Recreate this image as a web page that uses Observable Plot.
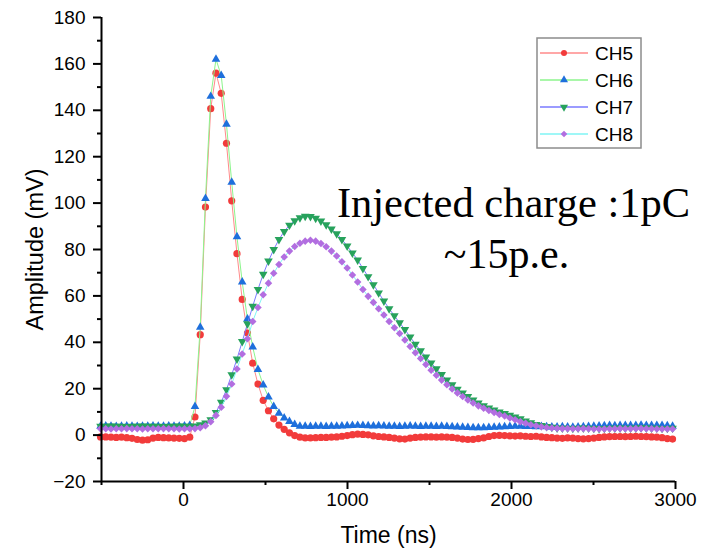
<!DOCTYPE html>
<html><head><meta charset="utf-8">
<script src="https://cdn.jsdelivr.net/npm/d3@7"></script>
<script src="https://cdn.jsdelivr.net/npm/@observablehq/plot@0.6"></script>
<style>
body{margin:0;background:#fff}
#chart{position:relative;width:707px;height:553px}
</style>
</head><body><div id="chart"></div>
<script>
// sample times (ns)
const time = [-506,-474,-442,-410,-378,-346,-314,-282,-250,-218,
-186,-154,-122,-90,-58,-26,6,38,70,102,
134,166,198,230,262,294,326,358,390,422,
454,486,518,550,582,614,646,678,710,742,
774,806,838,870,902,934,966,998,1030,1062,
1094,1126,1158,1190,1222,1254,1286,1318,1350,1382,
1414,1446,1478,1510,1542,1574,1606,1638,1670,1702,
1734,1766,1798,1830,1862,1894,1926,1958,1990,2022,
2054,2086,2118,2150,2182,2214,2246,2278,2310,2342,
2374,2406,2438,2470,2502,2534,2566,2598,2630,2662,
2694,2726,2758,2790,2822,2854,2886,2918,2950,2982];

const ch5 = [-0.8,-0.8,-0.9,-1.0,-0.9,-1.1,-1.4,-1.9,-2.2,-2.0,
-1.3,-1.0,-1.1,-1.2,-1.3,-1.4,-1.5,-0.9,7.8,43.3,
98.3,140.7,156,147.3,125.8,101,78.2,58.5,44,31,
22,15,10.5,7,4.3,2.5,1,-0.2,-0.9,-1.2,
-1.2,-1.1,-1.0,-1.0,-0.9,-0.8,-0.5,-0.2,0.2,0.4,
0.3,0.1,-0.3,-0.6,-0.8,-1.0,-1.3,-1.6,-1.7,-1.3,
-1.0,-0.9,-0.8,-0.8,-0.9,-0.8,-0.9,-1.0,-1.3,-1.7,
-1.9,-1.8,-1.5,-1.2,-0.6,-0.2,-0.1,-0.2,-0.3,-0.4,
-0.3,-0.5,-0.6,-0.5,-0.8,-1.0,-1.1,-1.3,-1.4,-1.2,
-1.3,-1.5,-1.6,-1.5,-1.3,-1.0,-0.8,-0.7,-0.6,-0.6,
-0.7,-0.6,-0.5,-0.6,-0.7,-0.8,-0.9,-1.1,-1.5,-1.7];

const ch6 = [3.8,3.9,3.8,3.7,3.8,3.9,3.8,3.7,3.8,3.8,
3.9,3.8,3.8,3.9,3.8,3.8,3.9,4.2,12.3,46.5,
102,146,162,155,134,109,85.5,66,50,38,
28.3,21.6,16.4,12.3,9.4,7.4,5.9,4.6,3.8,3.8,
3.7,3.8,3.8,3.7,3.8,3.8,3.9,4.0,4.1,4.2,
4.1,4.0,3.9,4.0,3.9,3.8,3.8,3.7,3.8,3.9,
3.8,3.7,3.8,3.8,3.7,3.8,3.7,3.6,3.5,3.4,
3.3,3.2,3.2,3.2,3.3,3.4,3.5,3.6,3.7,3.8,
3.8,3.7,3.7,3.6,3.7,3.6,3.5,3.5,3.6,3.5,
3.4,3.5,3.6,3.7,3.8,3.9,4.0,4.1,4.0,4.1,
4.2,4.1,4.2,4.3,4.2,4.1,4.2,4.1,4.0,3.8];

const ch7 = [3.8,3.8,3.9,3.8,3.8,3.7,3.8,3.8,3.9,3.8,
3.8,3.8,3.7,3.8,3.8,3.9,3.8,3.8,3.9,4.5,
5.2,6.6,9.8,14.2,19.6,26,32.8,40.3,48,55.5,
62.8,69.3,75,80,84.3,87.8,90.5,92.4,93.7,94.3,
94.2,93.5,92.3,90.7,88.8,86.8,84.3,81.5,78.5,75.5,
71.8,68.3,64.8,61.3,57.8,54.5,51.4,48.4,45.5,42.3,
39.2,36.4,33.7,31.1,28.6,26.1,23.8,21.7,19.8,18.1,
16.6,15.1,13.8,12.7,11.7,10.8,10,9.3,8.6,7.8,
7,6.1,5.3,4.6,4.1,3.7,3.4,3.1,3.0,3.0,
2.9,3.0,3.1,3.0,2.9,2.8,2.9,3.0,3.0,3.1,
3.0,3.0,3.1,3.2,3.1,3.0,3.0,2.9,2.9,3.0];

const ch8 = [2.7,2.7,2.6,2.7,2.7,2.8,2.7,2.7,2.6,2.7,
2.7,2.7,2.8,2.7,2.7,2.6,2.7,2.7,2.8,3.2,
4.0,5.8,8.5,12,16.7,22,28.5,35,41.5,49,
55,60.5,65.5,69.8,73.5,76.8,79.3,81.3,82.7,83.6,
84,83.6,82.6,81.2,79.3,77.2,74.7,72,69,66,
62.8,59.8,57.2,54.5,51.8,49,46.3,43.8,41,38.2,
35.5,33,30.4,28,25.8,23.7,21.7,19.9,18.2,16.6,
15.1,13.8,12.6,11.6,10.6,9.7,8.9,8.2,7.4,6.6,
5.8,5.1,4.5,4.0,3.6,3.3,3.1,2.9,2.8,2.8,
2.7,2.7,2.8,2.7,2.6,2.6,2.6,2.7,2.7,2.8,
2.7,2.7,2.8,2.8,2.7,2.7,2.6,2.6,2.6,2.6];

const seriesNames = ["CH5", "CH6", "CH7", "CH8"];
const xTicks = [0, 1000, 2000, 3000];
const xMinorTicks = [-500, 500, 1500, 2500];
const yTicks = [-20, 0, 20, 40, 60, 80, 100, 120, 140, 160, 180];
const yMinorTicks = [-10, 10, 30, 50, 70, 90, 110, 130, 150, 170];
const annotationLines = ["Injected charge :1pC", "~15p.e."];
const xLabel = "Time (ns)";
const yLabel = "Amplitude (mV)";

// inverted triangle symbol
const triangleDown = {
  draw(context, size) {
    const y = -Math.sqrt(size / (Math.sqrt(3) * 3));
    context.moveTo(0, -y * 2);
    context.lineTo(-Math.sqrt(3) * y, y);
    context.lineTo(Math.sqrt(3) * y, y);
    context.closePath();
  }
};

const styles = [
  {line: "#ff8a8a", fill: "#f23b3b", symbol: d3.symbolCircle, r: 3.6},
  {line: "#8cf58c", fill: "#1e6fdc", symbol: d3.symbolTriangle, r: 3.2},
  {line: "#7a7aff", fill: "#27a25c", symbol: triangleDown, r: 3.2},
  {line: "#7ff5f5", fill: "#b26ee0", symbol: d3.symbolDiamond2, r: 3.4}
];

const valueSets = [ch5, ch6, ch7, ch8];
const rowsets = valueSets.map((vals, k) =>
  time.slice(0, Math.min(time.length, vals.length)).map((t, i) => ({t, v: vals[i], name: seriesNames[k]}))
);

const FONT = "'Liberation Sans', Arial, sans-serif";
const SERIF = "'Liberation Serif', 'Times New Roman', serif";
const fmt = d => d < 0 ? "\u2212" + Math.abs(d) : String(d);

const marks = [];
rowsets.forEach((rows, k) => {
  const s = styles[k];
  marks.push(Plot.line(rows, {x: "t", y: "v", stroke: s.line, strokeWidth: 1}));
  marks.push(Plot.dot(rows, {x: "t", y: "v", symbol: s.symbol, r: s.r, fill: s.fill, stroke: "none"}));
});

const plot = Plot.plot({
  width: 707,
  height: 553,
  marginLeft: 101,
  marginRight: 32,
  marginTop: 17,
  marginBottom: 72,
  style: {fontFamily: FONT, background: "white", overflow: "visible"},
  x: {domain: [-500, 3000], label: null},
  y: {domain: [-20, 180], label: null},
  marks: [
    ...marks,
    Plot.axisX(xTicks, {tickSize: 8, tickPadding: 3, fontSize: 19, strokeWidth: 2, label: null, fontFamily: FONT, tickFormat: fmt}),
    Plot.axisX(xMinorTicks, {tickSize: 4, fill: "none", strokeWidth: 2, label: null}),
    Plot.axisY(yTicks, {tickSize: 8, tickPadding: 8, fontSize: 19, strokeWidth: 2, label: null, fontFamily: FONT, tickFormat: fmt}),
    Plot.axisY(yMinorTicks, {tickSize: 4, fill: "none", strokeWidth: 2, label: null}),
    Plot.ruleX([-500], {strokeWidth: 2}),
    Plot.ruleY([-20], {strokeWidth: 2}),
    Plot.text([xLabel], {text: d => d, frameAnchor: "bottom", dy: 61, lineAnchor: "bottom", fontSize: 23, fontFamily: FONT, fill: "black"}),
    Plot.text([yLabel], {text: d => d, frameAnchor: "left", dx: -59, rotate: -90, lineAnchor: "bottom", textAnchor: "middle", fontSize: 23.5, fontFamily: FONT, fill: "black"}),
    Plot.text([annotationLines[0]], {text: d => d, frameAnchor: "top-left", dx: 412, dy: 199, lineAnchor: "bottom", textAnchor: "middle", fontSize: 42.5, fontFamily: SERIF, fill: "black"}),
    Plot.text([annotationLines[1]], {text: d => d, frameAnchor: "top-left", dx: 405, dy: 250, lineAnchor: "bottom", textAnchor: "middle", fontSize: 42, fontFamily: SERIF, fill: "black"})
  ]
});

// Legend inside the plot area
const svg = d3.select(plot);
const lg = svg.append("g").attr("class", "legend").attr("text-anchor", "start");
lg.append("rect").attr("x", 537).attr("y", 38).attr("width", 104).attr("height", 110)
  .attr("fill", "white").attr("stroke", "#8c8c8c").attr("stroke-width", 1.5);
seriesNames.forEach((name, i) => {
  const s = styles[i];
  const y = 53 + i * 27;
  lg.append("line").attr("x1", 540).attr("x2", 588).attr("y1", y).attr("y2", y)
    .attr("stroke", s.line).attr("stroke-width", 1.5);
  lg.append("path").attr("transform", `translate(564,${y})`)
    .attr("d", d3.symbol(s.symbol, Math.PI * 3 * 3)()).attr("fill", s.fill);
  lg.append("text").attr("x", 595).attr("y", y + 7).attr("font-size", 19)
    .attr("text-anchor", "start")
    .attr("font-family", FONT).attr("fill", "black").text(name);
});

document.getElementById("chart").appendChild(plot);
</script>
</body></html>
